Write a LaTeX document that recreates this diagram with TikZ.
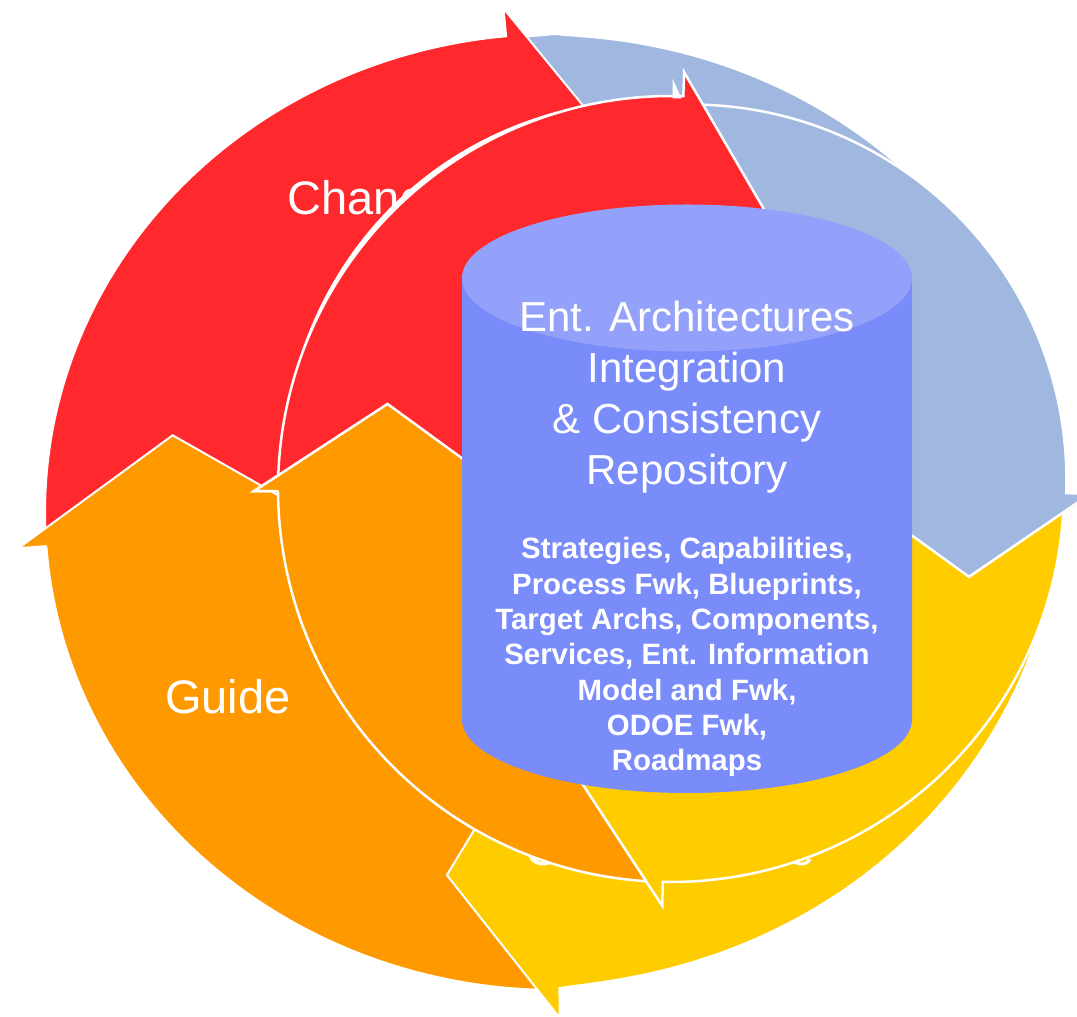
\documentclass[tikz,border=0pt]{standalone}
\usepackage{fontspec}
\setmainfont{Liberation Sans}
\definecolor{cred}{RGB}{255,40,44}
\definecolor{corange}{RGB}{255,153,0}
\definecolor{cyellow}{RGB}{255,204,0}
\definecolor{cblue}{RGB}{160,184,224}
\definecolor{cylside}{RGB}{122,139,250}
\definecolor{cyltop}{RGB}{148,161,250}
% #1 colour, #2 tail angle, #3 base angle, #4 tip angle, #5/#6 tip radii, #7 inner barb angle, #8/#9 inner barb radii
\newcommand{\RingArrow}[9]{%
  \path[ringline,fill=#1]
    plot[domain=#2:#3,samples=70]
      ({\Ra*(1-\Dent*sqrt(abs(sin(2*\x))))*cos(\x)},{\Rb*(1-\Dent*sqrt(abs(sin(2*\x))))*sin(\x)})
    -- (#3:\Rah pt and \Rbh pt)
    -- (#4:#5pt and #6pt)
    -- (#7:#8pt and #9pt)
    -- (#3:\Rc pt and \Rd pt)
    arc[start angle=#3,end angle=#2,x radius=\Rc pt,y radius=\Rd pt]
    -- cycle;}
\newcommand{\RingHead}[8]{%
  \fill[#1] (#2:\Ra pt and \Rb pt) -- (#2:\Rah pt and \Rbh pt) -- (#3:#4pt and #5pt)
    -- (#6:#7pt and #8pt) -- (#2:\Rc pt and \Rd pt) -- cycle;
  \draw[ringline] (#2:\Ra pt and \Rb pt) -- (#2:\Rah pt and \Rbh pt) -- (#3:#4pt and #5pt)
    -- (#6:#7pt and #8pt) -- (#2:\Rc pt and \Rd pt);}
\tikzset{
  ringline/.style={draw=white,line width=2pt,line join=miter},
  arrowlbl/.style={text=white,font=\fontsize{47}{56}\selectfont,anchor=base,inner sep=0pt},
  mainlbl/.style={text=white,font=\fontsize{42}{50}\selectfont,anchor=base,inner sep=0pt},
  boldlbl/.style={text=white,font=\fontsize{29.4}{35}\selectfont\bfseries,anchor=base,inner sep=0pt}
}
\begin{document}
\begin{tikzpicture}[x=1pt,y=1pt]
\useasboundingbox (0,0) rectangle (1077,1017);
\clip (0,0) rectangle (1077,1017);
% ---------------- outer ring ----------------
\begin{scope}[shift={(555,505)}]
  \def\Ra{510}\def\Rb{478}\def\Rc{250}\def\Rd{234}\def\Rah{538}\def\Rbh{506}
  \def\Dent{0}
  \RingArrow{corange}{269}{184.1}{167.9}{391}{366}{188.2}{202}{189}
  \def\Dent{0.028}
  \RingArrow{cyellow}{0.5}{-89.5}{-105.6}{402}{377}{-94.3}{227}{213}
  \def\Dent{0.01}
  \RingArrow{cblue}{94}{2}{-14}{398}{373}{2}{225}{210}
  \def\Dent{0}
  \RingArrow{cred}{182.6}{95.5}{78.2}{377}{354}{95.5}{210}{197}
  \RingHead{corange}{184.1}{167.9}{391}{366}{188.2}{202}{189}
\end{scope}
\node[arrowlbl] (change) at (370,802) {Change};
\node[arrowlbl] (guide) at (228,303) {Guide};
\node[arrowlbl] (communicate) at (670,151) {Communicate};
% ---------------- inner ring ----------------
\begin{scope}[ringline/.append style={line width=2.5pt}]
  \def\Dent{0}
  \begin{scope}[shift={(671,528)}]
    \def\Ra{393}\def\Rb{393}\def\Rc{205}\def\Rd{205}\def\Rah{417}\def\Rbh{417}
    \RingArrow{corange}{267.3}{180.3}{163.3}{296}{296}{185.2}{149}{149}
    \RingArrow{cyellow}{-0.9}{-91.2}{-108.8}{299}{299}{-91.2}{181}{181}
  \end{scope}
  \begin{scope}[shift={(691,537)}]
    \def\Ra{375.5}\def\Rb{375.5}\def\Rc{190}\def\Rd{190}\def\Rah{399.5}\def\Rbh{399.5}
    \RingArrow{cblue}{93}{-2}{-19.2}{294.4}{294.4}{-4}{160}{160}
  \end{scope}
  \begin{scope}[shift={(671,528)}]
    \def\Ra{393}\def\Rb{393}\def\Rc{205}\def\Rd{205}\def\Rah{417}\def\Rbh{417}
    \RingArrow{cred}{178.8}{88.2}{71}{292}{292}{88.2}{181}{181}
    \RingHead{corange}{180.3}{163.3}{296}{296}{185.2}{149}{149}
    \fill[white] plot[domain=105:160,samples=40]
      ({(394+3.5*sin((\x-105)/55*180))*cos(\x)},{(394+3.5*sin((\x-105)/55*180))*sin(\x)})
      -- (160:393pt) arc[start angle=160,end angle=105,radius=393pt] -- cycle;
  \end{scope}
  % small white spike beside the inner red barb
  \fill[white] (672.5,938.5) -- (672.5,918.5) -- (681.5,918.5) -- cycle;
\end{scope}
% ---------------- repository cylinder ----------------
\fill[cylside] (462,739) -- (462,297.5)
  arc[start angle=180,end angle=360,x radius=225pt,y radius=73.5pt] -- (912,739) -- cycle;
\fill[cyltop] (687,739) ellipse[x radius=225pt,y radius=73.5pt];
\node[mainlbl] (l1) at (687,685) {Ent. Architectures};
\node[mainlbl] (l2) at (687,634) {Integration};
\node[mainlbl] (l3) at (687,583) {\& Consistency};
\node[mainlbl] (l4) at (687,532) {Repository};
\node[boldlbl] (b1) at (687,458) {Strategies, Capabilities,};
\node[boldlbl] (b2) at (687,422.7) {Process Fwk, Blueprints,};
\node[boldlbl] (b3) at (687,387.4) {Target Archs, Components,};
\node[boldlbl] (b4) at (687,352.1) {Services, Ent. Information};
\node[boldlbl] (b5) at (687,316.8) {Model and Fwk,};
\node[boldlbl] (b6) at (687,281.5) {ODOE Fwk,};
\node[boldlbl] (b7) at (687,246.2) {Roadmaps};
\end{tikzpicture}
\end{document}
